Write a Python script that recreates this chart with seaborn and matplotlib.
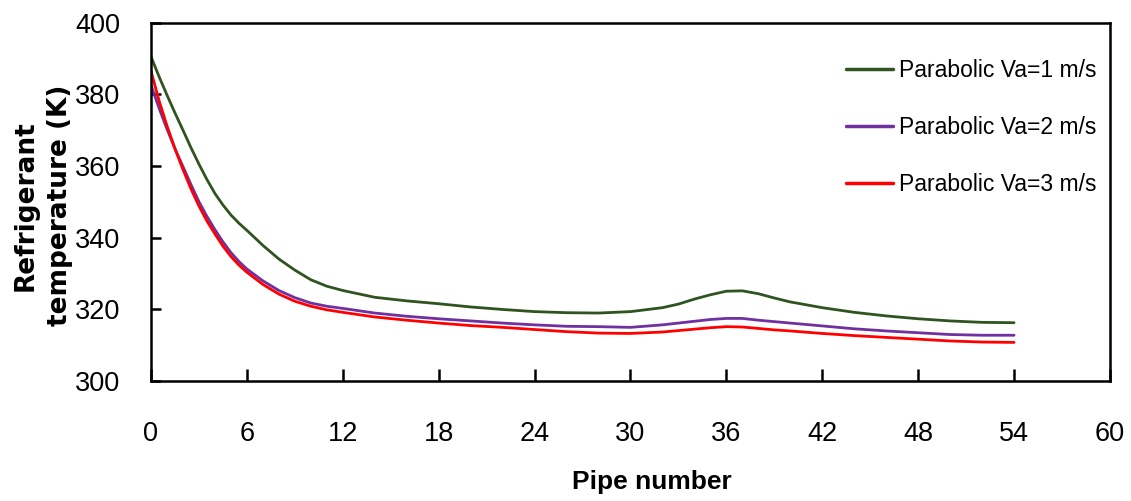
import numpy as np
import pandas as pd
import matplotlib
matplotlib.use("Agg")
import matplotlib.pyplot as plt
import seaborn as sns

# values
pipe = [0, 0.5, 1, 1.5, 2, 2.5, 3, 3.5, 4, 4.5, 5, 5.5, 6, 7, 8, 9, 10, 11, 12,
        14, 16, 18, 20, 22, 24, 26, 28, 30, 32, 33, 34, 35, 36, 37, 38, 39,
        40, 42, 44, 46, 48, 50, 52, 54]

temp_va1 = [390.5, 385.0, 379.8, 374.8, 370.0, 365.1, 360.5, 356.2, 352.3, 349.1,
            346.3, 344.0, 342.0, 337.8, 334.0, 330.9, 328.2, 326.4, 325.2,
            323.3, 322.3, 321.5, 320.6, 319.9, 319.3, 319.0, 318.9, 319.3,
            320.4, 321.4, 322.8, 324.0, 325.0, 325.1, 324.3, 323.1,
            322.0, 320.4, 319.1, 318.1, 317.3, 316.7, 316.3, 316.2]

temp_va2 = [382.6, 376.2, 370.3, 364.8, 359.8, 354.8, 350.0, 345.9, 342.2, 338.8,
            335.8, 333.3, 331.2, 327.9, 325.2, 323.2, 321.7, 320.8, 320.2,
            318.9, 318.0, 317.3, 316.7, 316.1, 315.6, 315.2, 315.1, 314.9,
            315.6, 316.1, 316.6, 317.1, 317.4, 317.4, 316.9, 316.5,
            316.1, 315.3, 314.5, 313.9, 313.4, 312.9, 312.7, 312.7]

temp_va3 = [386.5, 378.3, 371.2, 364.8, 359.0, 353.6, 348.8, 344.6, 341.0, 337.6,
            334.7, 332.3, 330.3, 326.9, 324.2, 322.2, 320.8, 319.8, 319.1,
            317.8, 316.9, 316.1, 315.4, 314.9, 314.3, 313.7, 313.3, 313.2,
            313.6, 314.0, 314.4, 314.8, 315.1, 315.0, 314.6, 314.2,
            313.9, 313.2, 312.6, 312.1, 311.6, 311.1, 310.8, 310.7]

series_names = ["Parabolic Va=1 m/s", "Parabolic Va=2 m/s", "Parabolic Va=3 m/s"]
colors = ["#2f5420", "#7030a0", "#ff0000"]

df = pd.concat([
    pd.DataFrame({"pipe": pipe, "temp": t, "case": name})
    for t, name in zip([temp_va1, temp_va2, temp_va3], series_names)
])

sns.set_style("white")
plt.rcParams["font.family"] = ["Liberation Sans", "DejaVu Sans"]
plt.rcParams["text.color"] = "black"
plt.rcParams["axes.labelcolor"] = "black"
plt.rcParams["xtick.color"] = "black"
plt.rcParams["ytick.color"] = "black"

fig = plt.figure(figsize=(11.31, 5.01), dpi=100)
ax = fig.add_axes([0.1335, 0.2401, 0.8479, 0.7146])

sns.lineplot(data=df, x="pipe", y="temp", hue="case", palette=colors,
             linewidth=2.0, ax=ax, sort=False)

ax.set_xlim(0, 60)
ax.set_ylim(300, 400)
ax.set_xticks(np.arange(0, 61, 6))
ax.set_yticks(np.arange(300, 401, 20))

for s in ax.spines.values():
    s.set_color("black")
    s.set_linewidth(1.8)

ax.tick_params(axis="x", direction="in", length=9, width=1.8, pad=29,
               labelsize=19.5, bottom=True, top=False)
ax.tick_params(axis="y", direction="in", length=7, width=1.8, pad=22,
               labelsize=19.5, left=True, right=False)

ax.set_xlabel("Pipe number", fontsize=19, fontweight="bold")
ax.xaxis.set_label_coords(0.522, -0.25)
ax.set_ylabel("Refrigerant\ntemperature (K)", fontsize=19, fontweight="bold",
              family=["DejaVu Sans"], linespacing=1.45)
ax.yaxis.set_label_coords(-0.081, 0.49)

leg = ax.legend(loc="upper left", bbox_to_anchor=(0.748, 0.883),
                bbox_transform=fig.transFigure, frameon=False, fontsize=16.5,
                handlelength=2.05, handletextpad=0.25, labelspacing=1.5,
                borderpad=0, borderaxespad=0)
for line in leg.get_lines():
    line.set_linewidth(2.5)

fig.savefig("out.png", dpi=100)
